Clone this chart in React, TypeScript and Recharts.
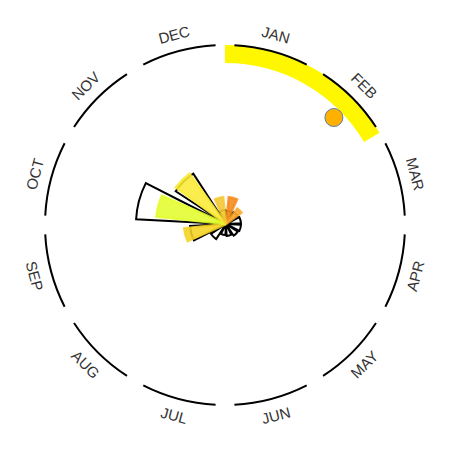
import React from 'react';
import {
  PieChart,
  Pie,
  Cell,
  RadialBarChart,
  RadialBar,
  PolarAngleAxis,
  PolarRadiusAxis,
} from 'recharts';

// ---- data ----
const months = ['JAN', 'FEB', 'MAR', 'APR', 'MAY', 'JUN', 'JUL', 'AUG', 'SEP', 'OCT', 'NOV', 'DEC'];
const outlineValues = [13, 14, 15, 15, 14, 12, 11, 18, 36, 90, 60, 14];
const fillValues = [27, 19, 0, 0, 0, 0, 0, 0, 42, 70, 62, 27];
const fillColors = [
  '#f58a1c', '#faa830', '#ffd700', '#ffd700', '#ffd700', '#ffd700',
  '#ffd700', '#ffd700', '#f5d424', '#e3fd2e', '#f9ea34', '#f4c832',
];
const seasonStartDay = 0;
const seasonEndDay = 60;
const peakDay = 46;
const daysInYear = 365;

const monthData = months.map((m, i) => ({
  month: m,
  arc: 1,
  outline: outlineValues[i],
  fill: fillValues[i],
}));
const seasonData = [
  { name: 'before', value: seasonStartDay },
  { name: 'season', value: seasonEndDay - seasonStartDay },
  { name: 'after', value: daysInYear - seasonEndDay },
];
const peakData = [
  { name: 'toPeak', value: peakDay },
  { name: 'rest', value: daysInYear - peakDay },
];

const RAD = Math.PI / 180;
const FONT = '"Liberation Sans", Arial, sans-serif';
const noMargin = { top: 0, right: 0, bottom: 0, left: 0 };

const renderMonthLabel = (props: any) => {
  const { cx, cy, midAngle, outerRadius, index } = props;
  const r = outerRadius + 16;
  const x = cx + r * Math.cos(-midAngle * RAD);
  const y = cy + r * Math.sin(-midAngle * RAD);
  let rot = 90 - midAngle;
  rot = ((rot % 360) + 360) % 360;
  if (rot > 90 && rot < 270) rot -= 180;
  return (
    <text
      key={`ml-${index}`}
      x={x}
      y={y}
      transform={`rotate(${rot} ${x} ${y})`}
      textAnchor="middle"
      dominantBaseline="central"
      fill="#333"
      fontSize={15}
      fontFamily={FONT}
    >
      {months[index]}
    </text>
  );
};

const renderPeak = (props: any) => {
  const { cx, cy, endAngle, outerRadius, index } = props;
  if (index !== 0) return <g key={`pk-${index}`} />;
  const x = cx + outerRadius * Math.cos(-endAngle * RAD);
  const y = cy + outerRadius * Math.sin(-endAngle * RAD);
  return <circle key={`pk-${index}`} cx={x} cy={y} r={9} fill="#ffb000" stroke="#5a7fa8" strokeWidth={1} />;
};

const layer: React.CSSProperties = { position: 'absolute', left: 0, top: 0, width: 450, height: 450 };

export default function App() {
  return (
    <div style={{ position: 'absolute', left: 0, top: 0, width: 450, height: 450, background: '#fff' }}>
      <div style={layer}>
        <PieChart width={450} height={450} margin={noMargin}>
          <Pie
            data={seasonData}
            dataKey="value"
            cx={225}
            cy={225}
            innerRadius={162}
            outerRadius={180}
            startAngle={90}
            endAngle={-270}
            stroke="none"
            isAnimationActive={false}
          >
            {seasonData.map((d, i) => (
              <Cell key={i} fill={d.name === 'season' ? '#fff700' : 'none'} />
            ))}
          </Pie>
          <Pie
            data={monthData}
            dataKey="arc"
            cx={225}
            cy={225}
            innerRadius={179}
            outerRadius={181}
            startAngle={87}
            endAngle={-273}
            paddingAngle={6}
            fill="#333"
            stroke="none"
            label={renderMonthLabel}
            labelLine={false}
            isAnimationActive={false}
          />
          <Pie
            data={peakData}
            dataKey="value"
            cx={225}
            cy={225}
            innerRadius={153}
            outerRadius={153}
            startAngle={90}
            endAngle={-270}
            fill="none"
            stroke="none"
            label={renderPeak}
            labelLine={false}
            isAnimationActive={false}
          />
        </PieChart>
      </div>
      <div style={layer}>
        <RadialBarChart
          width={450}
          height={450}
          margin={noMargin}
          data={monthData}
          cx={226}
          cy={224}
          innerRadius={0}
          outerRadius={100}
          startAngle={60}
          endAngle={-300}
          layout="centric"
          barCategoryGap="10%"
        >
          <PolarAngleAxis type="category" dataKey="month" tick={false} axisLine={false} />
          <PolarRadiusAxis type="number" domain={[0, 100]} tick={false} axisLine={false} />
          <RadialBar
            dataKey="outline"
            fill="transparent"
            fillOpacity={0}
            stroke="#000"
            strokeWidth={2}
            isAnimationActive={false}
          >
            {monthData.map((d, i) => (
              <Cell key={i} fill="transparent" fillOpacity={0} stroke="#000" />
            ))}
          </RadialBar>
        </RadialBarChart>
      </div>
      <div style={layer}>
        <RadialBarChart
          width={450}
          height={450}
          margin={noMargin}
          data={monthData}
          cx={226}
          cy={224}
          innerRadius={0}
          outerRadius={100}
          startAngle={60}
          endAngle={-300}
          layout="centric"
          barCategoryGap="20%"
        >
          <PolarAngleAxis type="category" dataKey="month" tick={false} axisLine={false} />
          <PolarRadiusAxis type="number" domain={[0, 100]} tick={false} axisLine={false} />
          <RadialBar dataKey="fill" strokeWidth={2.5} isAnimationActive={false}>
            {monthData.map((d, i) => (
              <Cell
                key={i}
                fill={fillColors[i]}
                fillOpacity={0.88}
                stroke={d.fill > 0 ? fillColors[i] : 'none'}
                strokeOpacity={0.85}
              />
            ))}
          </RadialBar>
        </RadialBarChart>
      </div>
    </div>
  );
}
